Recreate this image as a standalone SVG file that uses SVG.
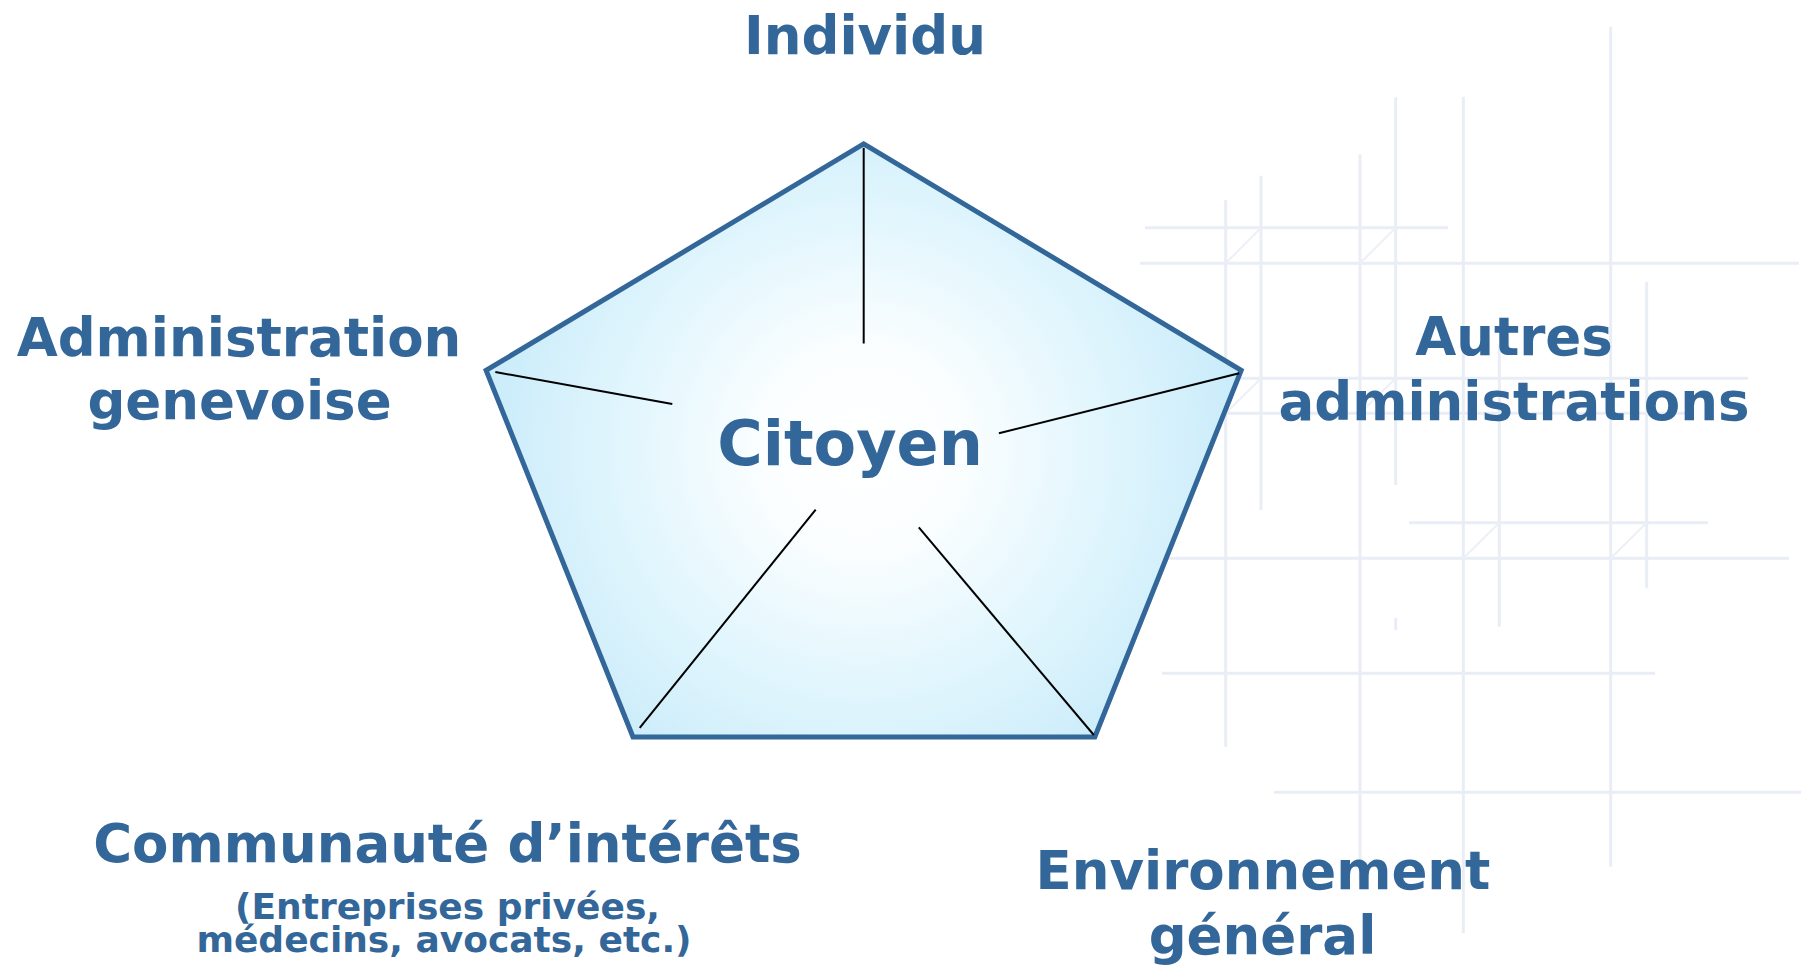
<svg xmlns="http://www.w3.org/2000/svg" width="1801" height="967" viewBox="0 0 1801 967">
<defs>
<radialGradient id="glow" gradientUnits="userSpaceOnUse" cx="862" cy="450" r="390">
<stop offset="0" stop-color="#ffffff"/>
<stop offset="0.25" stop-color="#fbfeff"/>
<stop offset="0.6" stop-color="#e2f6fd"/>
<stop offset="1" stop-color="#c8ebfa"/>
</radialGradient>
<style>
.grid line{stroke:#e9edf6;stroke-width:3;fill:none}
.grid .diag{stroke:#edf0f7;stroke-width:2}
.lbl{font-family:"DejaVu Sans","Verdana",sans-serif;font-weight:bold;fill:#336699;text-anchor:middle}
.big{font-size:53px}
.small{font-size:36px}
.conn line{stroke:#000;stroke-width:2;fill:none}
</style>
</defs>
<rect width="1801" height="967" fill="#ffffff"/>
<g id="background-grid" class="grid">
<line x1="1145" y1="227.7" x2="1448" y2="227.7"/>
<line x1="1140" y1="263.3" x2="1799" y2="263.3"/>
<line x1="1140" y1="378.3" x2="1748" y2="378.3"/>
<line x1="1140" y1="413.3" x2="1693" y2="413.3"/>
<line x1="1409" y1="522.7" x2="1708" y2="522.7"/>
<line x1="1140" y1="558.3" x2="1789" y2="558.3"/>
<line x1="1162" y1="673.3" x2="1655" y2="673.3"/>
<line x1="1274" y1="792.3" x2="1801" y2="792.3"/>
<line x1="1225.7" y1="200" x2="1225.7" y2="746.7"/>
<line x1="1261" y1="175.7" x2="1261" y2="510"/>
<line x1="1360" y1="154.3" x2="1360" y2="880"/>
<line x1="1395.7" y1="97.3" x2="1395.7" y2="485"/>
<line x1="1395.7" y1="618" x2="1395.7" y2="630"/>
<line x1="1463.3" y1="96.7" x2="1463.3" y2="933.3"/>
<line x1="1499.3" y1="345" x2="1499.3" y2="626.7"/>
<line x1="1610.7" y1="26.7" x2="1610.7" y2="866.7"/>
<line x1="1646.7" y1="281.7" x2="1646.7" y2="588.3"/>
<line class="diag" x1="1225.7" y1="263.3" x2="1261" y2="227.7"/>
<line class="diag" x1="1360" y1="263.3" x2="1395.7" y2="227.7"/>
<line class="diag" x1="1225.7" y1="413.3" x2="1261" y2="378.3"/>
<line class="diag" x1="1360" y1="413.3" x2="1395.7" y2="378.3"/>
<line class="diag" x1="1463.3" y1="558.3" x2="1499.3" y2="522.7"/>
<line class="diag" x1="1610.7" y1="558.3" x2="1646.7" y2="522.7"/>
</g>
<g id="citoyen">
<polygon points="863.7,143.8 1241.2,370.4 1094.8,737 633,737 486.1,370.4" fill="url(#glow)" stroke="#336699" stroke-width="5" stroke-linejoin="miter"/>
<text class="lbl" x="850" y="465" font-size="62">Citoyen</text>
</g>
<g id="connectors" class="conn">
<line x1="863.7" y1="147.8" x2="863.7" y2="343.5"/>
<line x1="495.3" y1="372" x2="672.3" y2="404"/>
<line x1="1239.2" y1="373.2" x2="998.9" y2="433.3"/>
<line x1="639.7" y1="727.8" x2="815.7" y2="509.6"/>
<line x1="1093.8" y1="735" x2="918.8" y2="527.4"/>
</g>
<g id="individu">
<text class="lbl big" x="865" y="53.5">Individu</text>
</g>
<g id="administration-genevoise">
<text class="lbl big" x="239" y="356">Administration</text>
<text class="lbl big" x="239.5" y="418.5">genevoise</text>
</g>
<g id="autres-administrations">
<text class="lbl big" x="1514" y="355">Autres</text>
<text class="lbl big" x="1514" y="419.5">administrations</text>
</g>
<g id="communaute-interets">
<text class="lbl big" x="447.5" y="862">Communauté d’intérêts</text>
<text class="lbl small" x="447.5" y="919">(Entreprises privées,</text>
<text class="lbl small" x="444" y="952">médecins, avocats, etc.)</text>
</g>
<g id="environnement-general">
<text class="lbl big" x="1263" y="888.5">Environnement</text>
<text class="lbl big" x="1262.5" y="953.5">général</text>
</g>
</svg>
